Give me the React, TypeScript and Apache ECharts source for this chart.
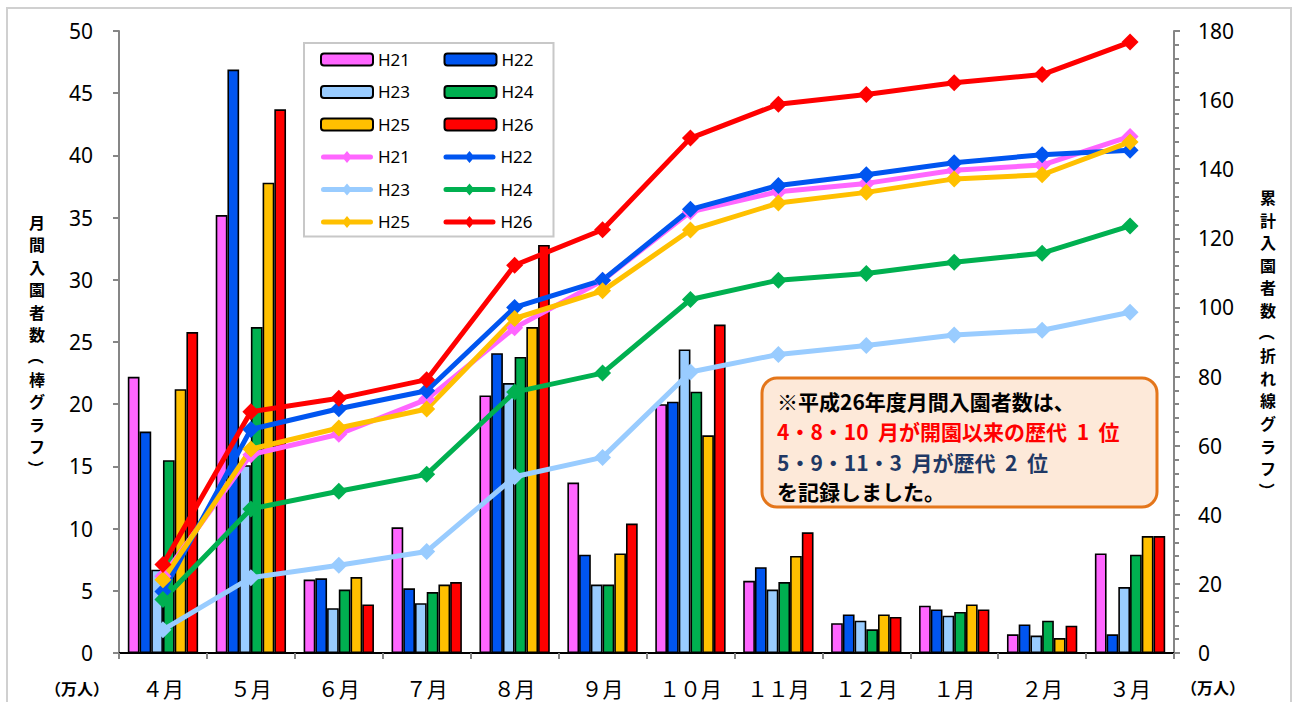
import React, { useEffect, useRef } from "react";
import * as echarts from "echarts";

const months = ["４月", "５月", "６月", "７月", "８月", "９月", "１０月", "１１月", "１２月", "１月", "２月", "３月"];
const years = ["H21", "H22", "H23", "H24", "H25", "H26"];
const colors = ["#ff66ff", "#0055f0", "#99ccff", "#00b050", "#ffc000", "#ff0000"];

const monthlyH21 = [22.2, 35.2, 5.9, 10.1, 20.7, 13.7, 20.0, 5.8, 2.4, 3.8, 1.5, 8.0];
const monthlyH22 = [17.8, 46.9, 6.0, 5.2, 24.1, 7.9, 20.2, 6.9, 3.1, 3.5, 2.3, 1.5];
const monthlyH23 = [6.7, 15.1, 3.6, 4.0, 21.7, 5.5, 24.4, 5.1, 2.6, 3.0, 1.4, 5.3];
const monthlyH24 = [15.5, 26.2, 5.1, 4.9, 23.8, 5.5, 21.0, 5.7, 1.9, 3.3, 2.6, 7.9];
const monthlyH25 = [21.2, 37.8, 6.1, 5.5, 26.2, 8.0, 17.5, 7.8, 3.1, 3.9, 1.2, 9.4];
const monthlyH26 = [25.8, 43.7, 3.9, 5.7, 32.8, 10.4, 26.4, 9.7, 2.9, 3.5, 2.2, 9.4];

const cumH21 = [22.2, 57.4, 63.3, 73.4, 94.1, 107.8, 127.7, 133.5, 135.9, 139.7, 141.2, 149.5];
const cumH22 = [17.8, 64.7, 70.7, 75.9, 100.0, 107.9, 128.4, 135.3, 138.4, 141.9, 144.2, 145.5];
const cumH23 = [6.7, 21.8, 25.4, 29.4, 51.0, 56.6, 81.3, 86.4, 89.0, 92.0, 93.4, 98.6];
const cumH24 = [15.5, 41.7, 46.8, 51.7, 75.5, 81.0, 102.3, 107.9, 109.8, 113.1, 115.7, 123.6];
const cumH25 = [21.2, 59.0, 65.1, 70.6, 96.8, 104.8, 122.4, 130.2, 133.3, 137.2, 138.4, 147.9];
const cumH26 = [25.6, 69.8, 73.7, 79.1, 112.2, 122.5, 149.0, 158.8, 161.6, 165.0, 167.4, 176.8];

const leftTitle = ["月", "間", "入", "園", "者", "数", "（", "棒", "グ", "ラ", "フ", "）"];
const rightTitle = ["累", "計", "入", "園", "者", "数", "（", "折", "れ", "線", "グ", "ラ", "フ", "）"];
const unitLabel = "（万人）";
const noteLines = [
  "※平成26年度月間入園者数は、",
  "4・8・10  月が開園以来の歴代  1  位",
  "5・9・11・3  月が歴代  2  位",
  "を記録しました。",
];
const noteColors = ["#000000", "#ff0000", "#1f3864", "#000000"];

const monthly = [monthlyH21, monthlyH22, monthlyH23, monthlyH24, monthlyH25, monthlyH26];
const cumulative = [cumH21, cumH22, cumH23, cumH24, cumH25, cumH26];

const NUM_FONT = "'Noto Sans', 'Noto Sans CJK JP', sans-serif";
const JP_FONT = "'Noto Sans CJK JP', 'Noto Sans', sans-serif";

const LINE_ICON =
  "path://M2.5,3.5 L49.5,3.5 A2.5,2.5 0 0 1 49.5,8.5 L2.5,8.5 A2.5,2.5 0 0 1 2.5,3.5 Z M26,0 L31,6 L26,12 L21,6 Z";

function verticalTitle(chars: string[], x: number, yStart: number, pitch: number) {
  return chars.map((c, i) => {
    const isParen = c === "（" || c === "）";
    return {
      type: "text",
      x,
      y: yStart + i * pitch,
      rotation: isParen ? -Math.PI / 2 : 0,
      style: {
        text: c,
        fontFamily: JP_FONT,
        fontSize: 16,
        lineHeight: 16,
        fontWeight: "bold",
        fill: "#000",
        align: "center",
        verticalAlign: "middle",
      },
    };
  });
}

export default function App() {
  const ref = useRef<HTMLDivElement>(null);

  useEffect(() => {
    if (!ref.current) return;
    const chart = echarts.init(ref.current, null, { renderer: "svg" });

    const barSeries = years.map((y, i) => ({
      name: y,
      type: "bar",
      yAxisIndex: 0,
      data: monthly[i],
      barGap: "0%",
      barCategoryGap: "20%",
      itemStyle: { color: colors[i], borderColor: "#000", borderWidth: 1.6 },
    }));

    const lineSeries = years.map((y, i) => ({
      name: y + "累計",
      type: "line",
      yAxisIndex: 1,
      data: cumulative[i],
      symbol: "diamond",
      symbolSize: 17,
      z: 5,
      lineStyle: { color: colors[i], width: 5 },
      itemStyle: { color: colors[i] },
    }));

    const legendData = [
      ...years.map((y) => ({ name: y })),
      ...years.map((y) => ({ name: y + "累計", icon: LINE_ICON })),
    ];

    chart.setOption({
      animation: false,
      backgroundColor: "#ffffff",
      grid: { left: 119, right: 119, top: 31, bottom: 49 },
      legend: {
        data: legendData,
        left: 304,
        top: 43,
        width: 240,
        orient: "horizontal",
        padding: [8, 2, 6, 16],
        itemWidth: 52,
        itemHeight: 12,
        itemGap: 15.5,
        borderColor: "#c8c8c8",
        borderWidth: 2,
        backgroundColor: "#ffffff",
        formatter: (n: string) => n.replace("累計", ""),
        textStyle: { fontFamily: NUM_FONT, fontSize: 17, color: "#000", width: 50, lineHeight: 13.5 },
      },
      xAxis: [
        {
          type: "category",
          data: months,
          axisLine: { lineStyle: { color: "#868686", width: 2 } },
          axisTick: { show: true, length: 6, lineStyle: { color: "#868686", width: 2 } },
          axisLabel: { fontFamily: JP_FONT, fontSize: 21, color: "#000", margin: 24 },
        },
        {
          type: "category",
          data: months,
          position: "top",
          axisLine: { lineStyle: { color: "#000", width: 2 } },
          axisTick: { show: false },
          axisLabel: { show: false },
        },
      ],
      yAxis: [
        {
          type: "value",
          min: 0,
          max: 50,
          interval: 5,
          axisLine: { show: true, lineStyle: { color: "#868686", width: 2 } },
          axisTick: { show: true, length: 6, lineStyle: { color: "#868686", width: 2 } },
          splitLine: { show: false },
          axisLabel: { fontFamily: NUM_FONT, fontSize: 21, color: "#000", margin: 26 },
        },
        {
          type: "value",
          min: 0,
          max: 180,
          interval: 20,
          position: "right",
          axisLine: { show: true, lineStyle: { color: "#868686", width: 2 } },
          axisTick: { show: true, length: 6, lineStyle: { color: "#868686", width: 2 } },
          minorTick: { show: true, splitNumber: 5, length: 5, lineStyle: { color: "#868686", width: 2 } },
          splitLine: { show: false },
          axisLabel: { fontFamily: NUM_FONT, fontSize: 21, color: "#000", margin: 24 },
        },
      ],
      series: [...barSeries, ...lineSeries],
      graphic: [
        {
          type: "rect",
          shape: { x: 7, y: 8, width: 1284, height: 720 },
          style: { fill: "none", stroke: "#d0d0d0", lineWidth: 2 },
          silent: true,
          z: -10,
        },
        ...verticalTitle(leftTitle, 37, 222, 22.4),
        ...verticalTitle(rightTitle, 1268, 197, 22.6),
        {
          type: "text",
          x: 77,
          y: 688,
          style: { text: unitLabel, fontFamily: JP_FONT, fontSize: 16, fontWeight: "bold", fill: "#000", align: "center", verticalAlign: "middle" },
        },
        {
          type: "text",
          x: 1213,
          y: 687,
          style: { text: unitLabel, fontFamily: JP_FONT, fontSize: 16, fontWeight: "bold", fill: "#000", align: "center", verticalAlign: "middle" },
        },
        {
          type: "rect",
          shape: { x: 762, y: 378, width: 395, height: 129, r: 15 },
          style: { fill: "#fde9d9", stroke: "#e4761b", lineWidth: 3 },
          z: 10,
        },
        ...noteLines.map((t, i) => ({
          type: "text",
          x: 777,
          y: [401, 431, 462, 491][i],
          z: 11,
          style: {
            text: t,
            fontFamily: JP_FONT,
            fontSize: 21,
            fontWeight: "bold",
            fill: noteColors[i],
            verticalAlign: "middle",
          },
        })),
      ],
    });

    return () => chart.dispose();
  }, []);

  return (
    <div
      ref={ref}
      style={{ position: "fixed", left: 0, top: 0, width: 1293, height: 702, background: "#fff" }}
    />
  );
}
